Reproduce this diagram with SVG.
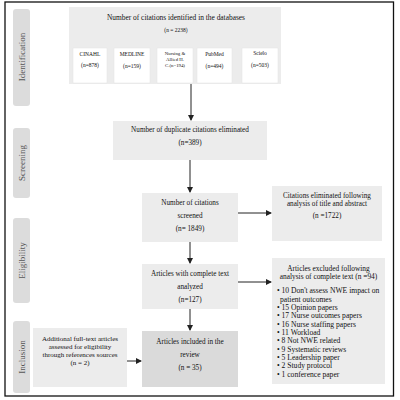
<svg xmlns="http://www.w3.org/2000/svg" width="400" height="400" viewBox="0 0 400 400">
<defs>
<marker id="ah" markerWidth="6" markerHeight="6" refX="5" refY="3" orient="auto" markerUnits="userSpaceOnUse">
<path d="M0,0 L6,3 L0,6 Z" fill="#222"/>
</marker>
<style>
.t{font-family:"Liberation Serif","Times New Roman",serif;fill:#111;text-anchor:middle}
.box{fill:#ececec}
.dark{fill:#dadada}
.sub{fill:#ffffff;stroke:#e2e2e2;stroke-width:0.5}
.tab{fill:#dcdcdc}
.lab{font-family:"Liberation Serif","Times New Roman",serif;fill:#555;font-size:9px;text-anchor:middle}
.l{stroke:#222;stroke-width:1;fill:none;marker-end:url(#ah)}
.b{font-family:"Liberation Serif","Times New Roman",serif;fill:#111;font-size:7.6px}
</style>
</defs>
<rect x="0" y="0" width="400" height="400" fill="#fff"/>
<rect x="5" y="2" width="388.5" height="394" fill="none" stroke="#111" stroke-width="1.3"/>

<g id="phase-labels">
<rect class="tab" x="13" y="9" width="17" height="97" rx="3"/>
<text class="lab" transform="translate(24.5,57) rotate(-90)">Identification</text>
<rect class="tab" x="13" y="128" width="17" height="70" rx="3"/>
<text class="lab" transform="translate(24.5,163) rotate(-90)">Screening</text>
<rect class="tab" x="13" y="218" width="17" height="85" rx="3"/>
<text class="lab" transform="translate(24.5,260.5) rotate(-90)">Eligibility</text>
<rect class="tab" x="13" y="321" width="17" height="72" rx="3"/>
<text class="lab" transform="translate(24.5,357) rotate(-90)">Inclusion</text>
</g>

<g id="identified">
<rect class="box" x="69" y="7" width="212" height="77"/>
<text class="t" x="176" y="20" font-size="7.4">Number of citations identified in the databases</text>
<text class="t" x="176" y="32" font-size="5.5">(n = 2238)</text>
</g>
<g id="cinahl">
<rect class="sub" x="73" y="48" width="34" height="35"/>
<text class="t" x="90" y="56" font-size="5.5">CINAHL</text>
<text class="t" x="90" y="67" font-size="5.5">(n=878)</text>
</g>
<g id="medline">
<rect class="sub" x="114" y="48" width="36" height="35"/>
<text class="t" x="132" y="56" font-size="5.5">MEDLINE</text>
<text class="t" x="132" y="68" font-size="5.5">(n=159)</text>
</g>
<g id="nursing">
<rect class="sub" x="157" y="48" width="36" height="35"/>
<text class="t" x="175" y="55" font-size="4.8">Nursing &amp;</text>
<text class="t" x="175" y="61" font-size="4.8">Allied H.</text>
<text class="t" x="175" y="67" font-size="4.8">C.(n=194)</text>
</g>
<g id="pubmed">
<rect class="sub" x="197" y="48" width="35" height="35"/>
<text class="t" x="214.5" y="56" font-size="5.5">PubMed</text>
<text class="t" x="214.5" y="68" font-size="5.5">(n=494)</text>
</g>
<g id="scielo">
<rect class="sub" x="242" y="48" width="36" height="35"/>
<text class="t" x="260" y="55" font-size="5.5">Scielo</text>
<text class="t" x="260" y="67" font-size="5.5">(n=503)</text>
</g>

<g id="duplicates">
<rect class="box" x="113" y="121" width="154" height="39"/>
<text class="t" x="190" y="132" font-size="7.2">Number of duplicate citations eliminated</text>
<text class="t" x="190" y="145" font-size="7.2">(n=389)</text>
</g>

<g id="screened">
<rect class="box" x="142" y="193" width="96" height="49"/>
<text class="t" x="190" y="205" font-size="7.2">Number of citations</text>
<text class="t" x="190" y="218" font-size="7.2">screened</text>
<text class="t" x="190" y="231" font-size="7.2">(n= 1849)</text>
</g>

<g id="eliminated">
<rect class="box" x="272" y="186" width="110" height="55"/>
<text class="t" x="327" y="198" font-size="7.2">Citations eliminated following</text>
<text class="t" x="327" y="206" font-size="7.2">analysis of title and abstract</text>
<text class="t" x="327" y="218" font-size="7.2">(n =1722)</text>
</g>

<g id="complete-text">
<rect class="box" x="142" y="264" width="96" height="45"/>
<text class="t" x="190" y="276" font-size="7.2">Articles with complete text</text>
<text class="t" x="190" y="289" font-size="7.2">analyzed</text>
<text class="t" x="190" y="302" font-size="7.2">(n=127)</text>
</g>

<g id="excluded">
<rect class="box" x="272" y="258" width="113" height="126"/>
<text class="t" x="328.5" y="271" font-size="7.4">Articles excluded following</text>
<text class="t" x="328.5" y="278.5" font-size="7.4">analysis of complete text (n =94)</text>
<text class="b" x="277" y="293">• 10 Don't assess NWE impact on</text>
<text class="b" x="280" y="301.5">patient outcomes</text>
<text class="b" x="277" y="309.5">• 15 Opinion papers</text>
<text class="b" x="277" y="318">• 17 Nurse outcomes papers</text>
<text class="b" x="277" y="326.5">• 16 Nurse staffing papers</text>
<text class="b" x="277" y="334.5">• 11 Workload</text>
<text class="b" x="277" y="343">• 8 Not NWE related</text>
<text class="b" x="277" y="351.5">• 9 Systematic reviews</text>
<text class="b" x="277" y="359.5">• 5 Leadership paper</text>
<text class="b" x="277" y="368">• 2 Study protocol</text>
<text class="b" x="277" y="376.5">• 1 conference paper</text>
</g>

<g id="additional">
<rect class="box" x="33" y="328" width="94" height="59"/>
<text class="t" x="80" y="341" font-size="7">Additional full-text articles</text>
<text class="t" x="80" y="349" font-size="7">assessed for eligibility</text>
<text class="t" x="80" y="357" font-size="7">through references sources</text>
<text class="t" x="80" y="365" font-size="7">(n = 2)</text>
</g>

<g id="included">
<rect class="dark" x="142" y="331" width="96" height="56"/>
<text class="t" x="190" y="344" font-size="7.2">Articles included in the</text>
<text class="t" x="190" y="357" font-size="7.2">review</text>
<text class="t" x="190" y="370" font-size="7.2">(n = 35)</text>
</g>

<g id="connectors">
<line class="l" x1="191" y1="84" x2="191" y2="120"/>
<line class="l" x1="190" y1="160" x2="190" y2="192"/>
<line class="l" x1="190" y1="242" x2="190" y2="263"/>
<line class="l" x1="190" y1="309" x2="190" y2="330"/>
<line class="l" x1="238" y1="213" x2="271" y2="213"/>
<line class="l" x1="238" y1="282" x2="271" y2="282"/>
<line class="l" x1="127" y1="361" x2="141" y2="361"/>
</g>
</svg>
